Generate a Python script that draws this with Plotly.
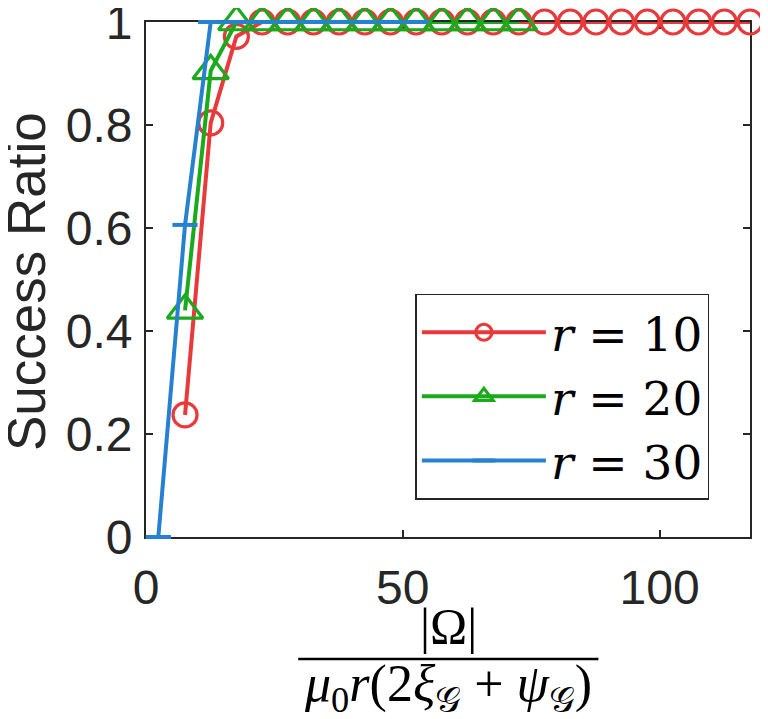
import plotly.graph_objects as go

# success ratio against normalised sample size, one series per rank r
red_x = [7.6, 12.6, 17.6, 22.6, 27.6, 32.6, 37.6, 42.6, 47.6, 52.6, 57.6, 62.6,
         67.6, 72.6, 77.6, 82.6, 87.6, 92.6, 97.6, 102.6, 107.6, 112.6, 117.6]
red_y = [0.237, 0.804, 0.972, 1, 1, 1, 1, 1, 1, 1, 1, 1,
         1, 1, 1, 1, 1, 1, 1, 1, 1, 1, 1]

green_x = [7.6, 12.6, 17.6, 22.6, 27.6, 32.6, 37.6, 42.6, 47.6, 52.6, 57.6, 62.6,
           67.6, 72.6]
green_y = [0.44, 0.905, 1, 1, 1, 1, 1, 1, 1, 1, 1, 1, 1, 1]

blue_x = [2.4, 7.6, 12.6, 17.6, 22.6, 27.6, 32.6, 37.6, 42.6, 47.6, 52.6]
blue_y = [0, 0.606, 1, 1, 1, 1, 1, 1, 1, 1, 1]

names = ["<i>r</i> = 10", "<i>r</i> = 20", "<i>r</i> = 30"]

x_ticks = [0, 50, 100]
y_ticks = [0, 0.2, 0.4, 0.6, 0.8, 1]
y_ticktext = ["0", "0.2", "0.4", "0.6", "0.8", "1"]

RED = "#E8393B"
GREEN = "#1BAA1B"
BLUE = "#2681D1"
AXIS = "#262626"

fig = go.Figure()
fig.add_trace(go.Scatter(x=red_x, y=red_y, mode="lines+markers", name=names[0],
                         line=dict(color=RED, width=4),
                         marker=dict(symbol="circle-open", size=24,
                                     line=dict(color=RED, width=3.2)),
                         cliponaxis=False))
fig.add_trace(go.Scatter(x=green_x, y=green_y, mode="lines+markers", name=names[1],
                         line=dict(color=GREEN, width=4),
                         marker=dict(symbol="triangle-up-open", size=31,
                                     line=dict(color=GREEN, width=3.2)),
                         cliponaxis=False))
fig.add_trace(go.Scatter(x=blue_x, y=blue_y, mode="lines+markers", name=names[2],
                         line=dict(color=BLUE, width=4),
                         marker=dict(symbol="line-ew", size=18,
                                     line=dict(color=BLUE, width=4)),
                         cliponaxis=False))

axis_common = dict(showgrid=False, zeroline=False, showline=True, linecolor=AXIS,
                   linewidth=1.8, mirror="ticks", ticks="inside", ticklen=7,
                   tickwidth=1.8, tickcolor=AXIS, layer="below traces",
                   automargin=False, ticklabeloverflow="allow",
                   tickfont=dict(family="Liberation Sans, Arial", size=48, color=AXIS))

fig.update_xaxes(range=[0, 117.6], tickvals=x_ticks, ticklabelstandoff=7,
                 **axis_common)
fig.update_yaxes(range=[0, 1], tickvals=y_ticks, ticktext=y_ticktext,
                 ticklabelstandoff=2, **axis_common)

# y label as a rotated annotation so it can sit close to the page edge
fig.add_annotation(text="Success Ratio", xref="paper", yref="paper", x=0, y=0.495,
                   xshift=-120, textangle=-90, showarrow=False,
                   xanchor="center", yanchor="middle",
                   font=dict(family="Liberation Sans, Arial", size=53, color=AXIS))

# x label: |Omega| over mu_0 r (2 xi_G + psi_G), built as a stacked fraction
fig.add_annotation(text="|Ω|", xref="paper", yref="paper", x=0.5, y=0,
                   yshift=-89, showarrow=False, yanchor="middle",
                   font=dict(family="Liberation Serif, Times New Roman", size=50,
                             color="black"))
fig.add_annotation(text="<i>μ</i><sub>0</sub><i>r</i>(2<i>ξ</i><sub>𝒢</sub> + "
                        "<i>ψ</i><sub>𝒢</sub>)",
                   xref="paper", yref="paper", x=0.5, y=0, yshift=-150,
                   showarrow=False, yanchor="middle",
                   font=dict(family="Liberation Serif, Times New Roman", size=52,
                             color="black"))
fig.add_shape(type="line", xref="paper", yref="paper", x0=0.252, x1=0.749,
              y0=-0.237, y1=-0.237, line=dict(color="black", width=2.5))

# the page body adds an 8 px offset, so the figure is 8 px smaller on each axis
fig.update_layout(
    width=760, height=711,
    margin=dict(l=138, r=18, t=14, b=182),
    paper_bgcolor="white", plot_bgcolor="white",
    legend=dict(x=0.446, y=0.4724, xanchor="left", yanchor="top",
                bgcolor="white", bordercolor=AXIS, borderwidth=1.5,
                itemwidth=124,
                font=dict(family="DejaVu Serif, Liberation Serif", size=47,
                          color="black")),
)

fig.write_html("out.html")
